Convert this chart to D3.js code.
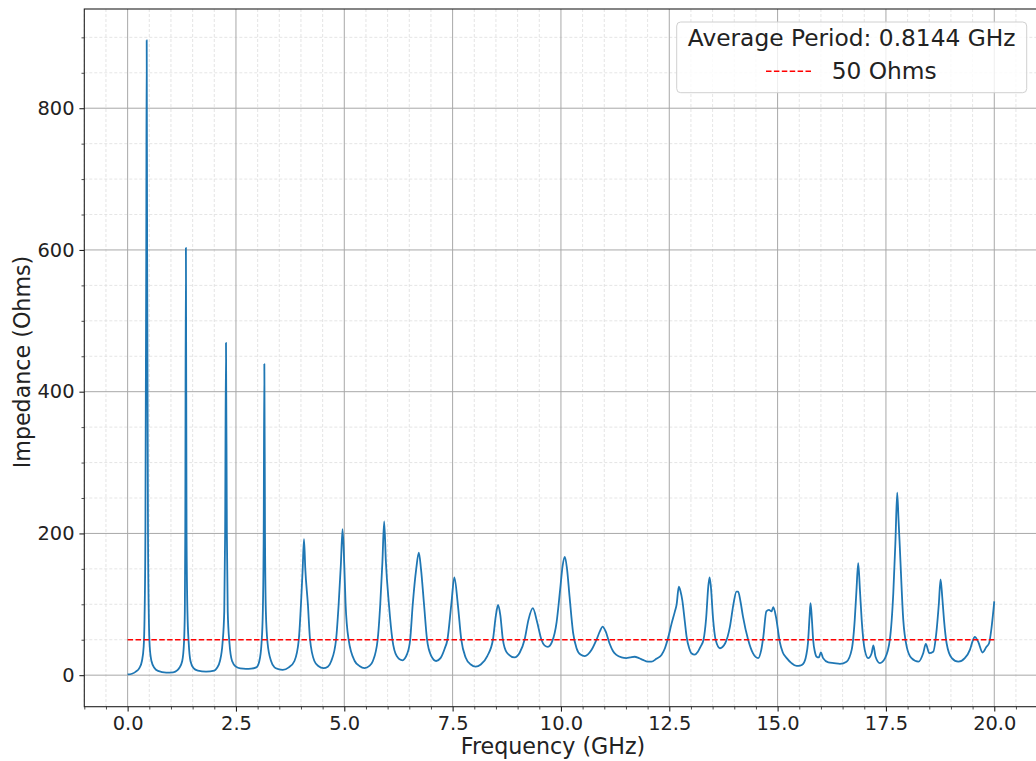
<!DOCTYPE html>
<html>
<head>
<meta charset="utf-8">
<script src="https://cdn.jsdelivr.net/npm/d3@7"></script>
<style>
  html, body { margin: 0; padding: 0; background: #fff; }
  svg { display: block; font-family: "DejaVu Sans", sans-serif; }
</style>
</head>
<body>
<svg id="chart" width="1036" height="761"></svg>
<script>
// ---- data ----
const freqGHz = [
  0.00,0.10,0.19,0.27,0.33,0.37,0.39,0.41,0.43,0.44,0.45,0.47,0.49,0.51,0.55,0.62,0.70,0.89,
  1.05,1.15,1.19,1.26,1.30,1.32,1.33,1.345,1.36,1.38,1.41,1.45,1.52,1.62,1.81,
  2.00,2.06,2.13,2.19,2.23,2.25,2.27,2.29,2.31,2.35,2.41,2.50,2.60,2.73,2.85,2.97,
  3.04,3.09,3.12,3.14,3.155,3.17,3.19,3.23,3.31,3.39,3.48,3.58,3.72,3.85,3.95,
  4.00,4.04,4.07,4.10,4.16,4.21,4.31,4.40,4.52,4.62,4.70,4.81,4.87,4.92,4.96,
  5.00,5.03,5.10,5.24,5.35,5.47,5.58,5.66,5.77,5.83,5.88,5.92,5.96,
  6.03,6.11,6.21,6.34,6.45,6.52,6.58,6.66,6.72,6.77,6.84,6.91,
  7.00,7.12,7.22,7.32,7.38,7.47,7.54,7.62,7.70,7.80,7.92,
  8.03,8.15,8.30,8.43,8.50,8.55,8.60,8.66,8.75,8.93,
  9.05,9.16,9.25,9.35,9.45,9.55,9.62,9.70,9.80,9.90,9.98,
  10.04,10.09,10.14,10.20,10.28,10.36,10.45,10.55,10.70,10.82,10.90,10.96,
  11.03,11.12,11.20,11.28,11.40,11.51,11.60,11.70,11.80,11.89,
  12.00,12.09,12.20,12.32,12.40,12.47,12.55,12.63,12.67,12.72,12.76,12.80,12.86,12.90,12.96,
  13.01,13.09,13.16,13.22,13.29,13.35,13.40,13.43,13.46,13.51,13.57,13.67,13.79,13.90,13.98,
  14.05,14.09,14.14,14.20,14.32,14.43,14.55,14.62,14.67,14.74,14.80,14.86,14.90,14.96,
  15.05,15.12,15.21,15.32,15.44,15.52,15.59,15.66,15.70,15.74,15.76,15.79,15.82,15.86,15.90,15.95,
  16.00,16.05,16.17,16.30,16.44,16.59,16.71,16.78,16.82,16.86,16.90,16.94,
  17.01,17.09,17.17,17.21,17.26,17.36,17.48,17.59,17.67,17.72,17.76,17.79,17.82,17.90,17.98,
  18.09,18.25,18.36,18.42,18.50,18.59,18.67,18.72,18.76,18.80,18.84,18.90,
  19.02,19.17,19.32,19.44,19.50,19.55,19.63,19.73,19.82,19.88,19.94,20.00
];
const impedanceOhms = [
  1,2,5,10,20,40,80,200,600,896,600,200,80,40,20,10,6,3.7,
  4,7,10,20,45,90,200,603,200,90,45,20,10,6.5,5,
  6.5,10,20,45,90,200,469,200,90,45,20,12,9.5,9,9.3,11,
  20,45,90,200,439,200,90,45,20,11,8.5,7.5,11,20,50,
  100,150,192,150,100,50,20,13,10,12,20,50,100,155,206,
  155,100,50,20,13,10,13,20,50,100,160,217,160,
  100,50,27,21,30,50,100,150,173,150,100,50,
  28,20,24,38,50,100,138,100,50,25,15,
  12,15,27,50,85,99,85,50,32,25,
  32,50,78,94.5,75,50,42,40,48,75,120,
  155,167,150,110,60,38,29,27,35,50,62,68.5,
  62,45,34,28.6,25,24,25,26,24,21.6,
  19,19,23,28.6,38,52,72,90,100,125,118,106,75,54,38,
  31,29,33,40,50,80,125,138,125,80,50,38,45,68.5,100,
  118,118,105,83,50,31,24,35,54,90,92,90,96,83,
  47,32,24,17,13,13.5,16,28,45,85,101.5,80,50,33,26,25,
  32,24,18,17,16,19,36,78,120,158,120,78,
  36,24,31,42,26,17,24,50,116,190,257.5,220,181,78,40,
  24,19,31,44,31,33,64,100,135,110,78,45,
  24,19,24,36,48,54,47,32,40,45,68.5,104
];
const refLevel = 50;               // 50 Ohms reference line
const refRange = [0, 20];
const xMajorTicks = [0, 2.5, 5, 7.5, 10, 12.5, 15, 17.5, 20];
const yMajorTicks = [0, 200, 400, 600, 800];
const xLabel = "Frequency (GHz)";
const yLabel = "Impedance (Ohms)";
const legendTitle = "Average Period: 0.8144 GHz";
const legendEntry = "50 Ohms";

// ---- layout ----
const svg = d3.select("#chart");
const L = 84.3, T = 9, R = 1037.6, B = 706.7;
const x = d3.scaleLinear().domain([-1, 21]).range([L, R]);
const y = d3.scaleLinear().domain([-44.5, 940]).range([B, T]);

const xMinor = d3.range(-1, 21.01, 0.5).filter(v => !xMajorTicks.includes(v));
const yMinor = d3.range(-0, 940, 50).filter(v => !yMajorTicks.includes(v));

svg.append("defs").append("clipPath").attr("id", "clip")
  .append("rect").attr("x", L).attr("y", T).attr("width", R - L).attr("height", B - T);

// minor grid
const grid = svg.append("g");
grid.selectAll(".xmg").data(xMinor).join("line")
  .attr("x1", d => x(d)).attr("x2", d => x(d)).attr("y1", T).attr("y2", B)
  .attr("stroke", "#dedede").attr("stroke-width", 0.8).attr("stroke-dasharray", "3,2");
grid.selectAll(".ymg").data(yMinor).join("line")
  .attr("y1", d => y(d)).attr("y2", d => y(d)).attr("x1", L).attr("x2", R)
  .attr("stroke", "#dedede").attr("stroke-width", 0.8).attr("stroke-dasharray", "3,2");
// major grid
grid.selectAll(".xg").data(xMajorTicks).join("line")
  .attr("x1", d => x(d)).attr("x2", d => x(d)).attr("y1", T).attr("y2", B)
  .attr("stroke", "#a8a8a8").attr("stroke-width", 1);
grid.selectAll(".yg").data(yMajorTicks).join("line")
  .attr("y1", d => y(d)).attr("y2", d => y(d)).attr("x1", L).attr("x2", R)
  .attr("stroke", "#a8a8a8").attr("stroke-width", 1);

// data line
const pts = freqGHz.map((f, i) => [f, impedanceOhms[i]]);
svg.append("path").datum(pts)
  .attr("clip-path", "url(#clip)")
  .attr("fill", "none").attr("stroke", "#1f77b4").attr("stroke-width", 1.8)
  .attr("stroke-linejoin", "round")
  .attr("d", d3.line().curve(d3.curveMonotoneX).x(d => x(d[0])).y(d => y(d[1])));

// 50 ohm line
svg.append("line")
  .attr("x1", x(refRange[0])).attr("x2", x(refRange[1]))
  .attr("y1", y(refLevel)).attr("y2", y(refLevel))
  .attr("stroke", "red").attr("stroke-width", 1.5).attr("stroke-dasharray", "5.5,2.4");

// axes
const fmtX = d3.format(".1f");
const xAxis = d3.axisBottom(x).tickValues(xMajorTicks).tickFormat(fmtX).tickSize(4.9).tickPadding(4.9);
const yAxis = d3.axisLeft(y).tickValues(yMajorTicks).tickFormat(d3.format("d")).tickSize(4.9).tickPadding(4.9);
const gx = svg.append("g").attr("transform", `translate(0,${B})`).call(xAxis);
const gy = svg.append("g").attr("transform", `translate(${L},0)`).call(yAxis);
[gx, gy].forEach(g => {
  g.select(".domain").remove();
  g.selectAll("text").attr("font-size", 19.4).attr("fill", "#222").attr("font-family", "DejaVu Sans");
  g.selectAll("line").attr("stroke", "#222").attr("stroke-width", 1.1);
});
svg.append("g").attr("transform", `translate(0,${B})`)
  .call(d3.axisBottom(x).tickValues(xMinor).tickFormat("").tickSize(2.8))
  .call(g => { g.select(".domain").remove(); g.selectAll("line").attr("stroke", "#222").attr("stroke-width", 0.8); });
svg.append("g").attr("transform", `translate(${L},0)`)
  .call(d3.axisLeft(y).tickValues(yMinor).tickFormat("").tickSize(2.8))
  .call(g => { g.select(".domain").remove(); g.selectAll("line").attr("stroke", "#222").attr("stroke-width", 0.8); });

// spines
svg.append("rect").attr("x", L).attr("y", T).attr("width", R - L).attr("height", B - T)
  .attr("fill", "none").attr("stroke", "#222").attr("stroke-width", 1.1);

// axis labels
svg.append("text").attr("x", 553).attr("y", 754).attr("text-anchor", "middle")
  .attr("font-size", 22.2).attr("fill", "#222").text(xLabel);
svg.append("text").attr("transform", "translate(30,362) rotate(-90)").attr("text-anchor", "middle")
  .attr("font-size", 22.2).attr("fill", "#222").text(yLabel);

// legend
const lg = svg.append("g");
lg.append("rect").attr("x", 676.7).attr("y", 22).attr("width", 350).attr("height", 70.7).attr("rx", 4)
  .attr("fill", "white").attr("fill-opacity", 0.8).attr("stroke", "#d0d0d0").attr("stroke-width", 1);
lg.append("text").attr("x", 851.7).attr("y", 45.7).attr("text-anchor", "middle")
  .attr("font-size", 23.3).attr("fill", "#222").text(legendTitle);
lg.append("line").attr("x1", 766).attr("x2", 813.3).attr("y1", 71.3).attr("y2", 71.3)
  .attr("stroke", "red").attr("stroke-width", 1.5).attr("stroke-dasharray", "5.5,2.4");
lg.append("text").attr("x", 831.7).attr("y", 79.3)
  .attr("font-size", 23.3).attr("fill", "#222").text(legendEntry);
</script>
</body>
</html>
